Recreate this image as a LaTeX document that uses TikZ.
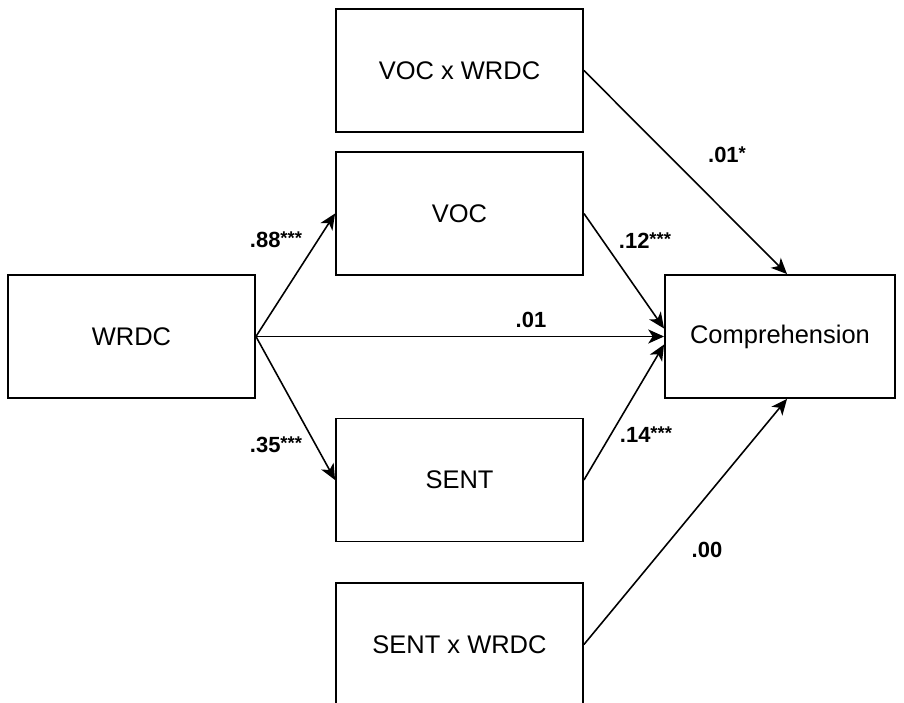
\documentclass[tikz,border=0pt]{standalone}
\usepackage{fontspec}
\setmainfont{Liberation Sans}
\usetikzlibrary{arrows.meta}

\tikzset{
  box/.style={draw, line width=1.1pt, minimum width=4.94cm, minimum height=2.46cm,
    inner sep=0pt, font=\fontsize{14.5}{17}\selectfont},
  effect/.style={line width=0.9pt, -{Stealth[length=9pt,width=8pt,inset=2.5pt]}},
  coef/.style={inner sep=0pt, font=\bfseries\fontsize{12.5}{14}\selectfont}
}
% significance stars
\newcommand{\sig}[1]{\raisebox{0.25ex}{\fontsize{10.5}{10}\selectfont#1}}

\begin{document}
\begin{tikzpicture}[x=0.02cm, y=-0.02cm]
      \useasboundingbox (0,0) rectangle (904,703);

      % boxes
      \node[box] (wrdc) at (131.5,336.5) {WRDC};
      \node[box] (vocxwrdc) at (459.5,70.5) {VOC x WRDC};
      \node[box] (voc) at (459.5,213.5) {VOC};
      \node[box] (sent) at (459.5,480) {SENT};
      \node[box] (sentxwrdc) at (459.5,644.5) {SENT x WRDC};
      \node[box, minimum width=4.6cm] (comp) at (780,336.5) {Comprehension};

      % paths
      \draw[effect] (wrdc.east) -- (voc.west);
      \draw[effect] (wrdc.east) -- (sent.west);
      \draw[effect] (wrdc.east) -- (comp.west);
      \draw[effect] (voc.east) -- ([yshift=0.16cm]comp.west);
      \draw[effect] (sent.east) -- ([yshift=-0.16cm]comp.west);
      \draw[effect] (vocxwrdc.east) -- ([xshift=0.14cm]comp.north);
      \draw[effect] (sentxwrdc.east) -- ([xshift=0.14cm]comp.south);

      % coefficients
      \node[coef] (c-voc) at (276,240) {.88\sig{***}};
      \node[coef] (c-sent) at (276,445) {.35\sig{***}};
      \node[coef] (c-direct) at (531,320) {.01};
      \node[coef] (c-voccomp) at (645,241) {.12\sig{***}};
      \node[coef] (c-sentcomp) at (646,435) {.14\sig{***}};
      \node[coef] (c-vocx) at (727,155) {.01\sig{*}};
      \node[coef] (c-sentx) at (707,550) {.00};
    \end{tikzpicture}
\end{document}
